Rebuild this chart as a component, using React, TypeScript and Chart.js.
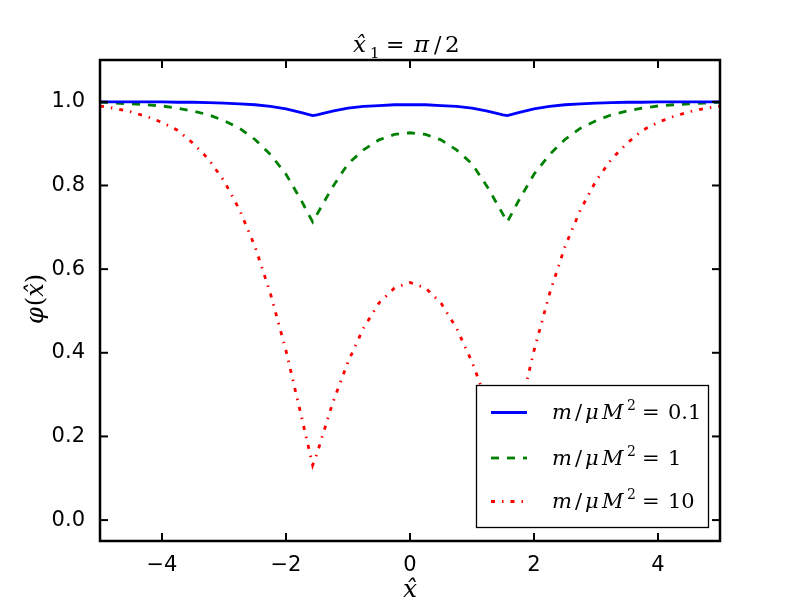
import { useEffect, useRef } from "react";
import { Chart, registerables } from "chart.js";

Chart.register(...registerables);

const xValues = [-5, -4.75, -4.5, -4.25, -4, -3.75, -3.5, -3.25, -3, -2.75, -2.5, -2.25, -2, -1.75, -1.57, -1.5, -1.25, -1, -0.75, -0.5, -0.25, 0, 0.25, 0.5, 0.75, 1, 1.25, 1.5, 1.57, 1.75, 2, 2.25, 2.5, 2.75, 3, 3.25, 3.5, 3.75, 4, 4.25, 4.5, 4.75, 5];

const blueValues = [1.0, 1.0, 1.0, 1.0, 1.0, 0.999, 0.999, 0.998, 0.997, 0.995, 0.993, 0.989, 0.983, 0.974, 0.967, 0.969, 0.978, 0.985, 0.989, 0.991, 0.993, 0.993, 0.993, 0.991, 0.989, 0.985, 0.978, 0.969, 0.967, 0.974, 0.983, 0.989, 0.993, 0.995, 0.997, 0.998, 0.999, 0.999, 1.0, 1.0, 1.0, 1.0, 1.0];

const greenValues = [0.999, 0.997, 0.995, 0.993, 0.99, 0.985, 0.978, 0.969, 0.955, 0.937, 0.91, 0.874, 0.827, 0.763, 0.713, 0.731, 0.796, 0.852, 0.885, 0.909, 0.922, 0.926, 0.922, 0.909, 0.885, 0.852, 0.796, 0.731, 0.713, 0.763, 0.827, 0.874, 0.91, 0.937, 0.955, 0.969, 0.978, 0.985, 0.99, 0.993, 0.995, 0.997, 0.999];

const redValues = [0.99, 0.984, 0.976, 0.965, 0.951, 0.932, 0.901, 0.863, 0.811, 0.742, 0.654, 0.541, 0.405, 0.247, 0.131, 0.159, 0.279, 0.378, 0.459, 0.519, 0.555, 0.568, 0.555, 0.519, 0.459, 0.378, 0.279, 0.159, 0.131, 0.247, 0.405, 0.541, 0.654, 0.742, 0.811, 0.863, 0.901, 0.932, 0.951, 0.965, 0.976, 0.984, 0.99];

const seriesLabels = ["0.1", "1", "10"];
const xTicks = [-4, -2, 0, 2, 4];
const yTicks = [0, 0.2, 0.4, 0.6, 0.8, 1.0];

const SERIF = '"DejaVu Serif", "Liberation Serif", serif';
const it = (s: number) => `italic ${s}px ${SERIF}`;
const rm = (s: number) => `${s}px ${SERIF}`;

type Piece = { t: string; font: string; dx?: number; dy?: number; gap?: number };

// draws pieces; if dx is given it's an absolute offset, otherwise pieces follow each other
function drawPieces(ctx: CanvasRenderingContext2D, pieces: Piece[], x: number, y: number, center = false) {
  ctx.textAlign = "left";
  ctx.textBaseline = "alphabetic";
  ctx.fillStyle = "#000";
  const pos: number[] = [];
  let cur = 0;
  for (const p of pieces) {
    ctx.font = p.font;
    const start = p.dx !== undefined ? p.dx : cur + (p.gap || 0);
    pos.push(start);
    cur = start + ctx.measureText(p.t).width;
  }
  const shift = center ? -cur / 2 : 0;
  pieces.forEach((p, i) => {
    ctx.font = p.font;
    ctx.fillText(p.t, x + pos[i] + shift, y + (p.dy || 0));
  });
}

const decorPlugin = {
  id: "decor",
  afterDraw(chart: any) {
    const { ctx, chartArea: a, scales } = chart;
    ctx.save();
    // frame
    ctx.strokeStyle = "#000";
    ctx.lineWidth = 2.5;
    ctx.strokeRect(a.left, a.top, a.right - a.left, a.bottom - a.top);
    // inward ticks on all sides
    ctx.lineWidth = 2;
    const tl = 8;
    const seg = (x1: number, y1: number, x2: number, y2: number) => {
      ctx.beginPath();
      ctx.moveTo(x1, y1);
      ctx.lineTo(x2, y2);
      ctx.stroke();
    };
    scales.x.ticks.forEach((t: any) => {
      const px = scales.x.getPixelForValue(t.value);
      seg(px, a.bottom, px, a.bottom - tl);
      seg(px, a.top, px, a.top + tl);
    });
    scales.y.ticks.forEach((t: any) => {
      const py = scales.y.getPixelForValue(t.value);
      seg(a.left, py, a.left + tl, py);
      seg(a.right, py, a.right - tl, py);
    });

    // title: x̂_1 = π/2
    drawPieces(ctx, [
      { t: "x\u0302", font: it(23), dx: 0 },
      { t: "1", font: rm(15), dx: 17, dy: 6 },
      { t: "=", font: rm(22), dx: 33 },
      { t: "\u03c0", font: it(23), dx: 61 },
      { t: "/", font: rm(22), dx: 81 },
      { t: "2", font: rm(23), dx: 92 },
    ], 353, 52);

    // x label
    ctx.font = it(25);
    ctx.textAlign = "center";
    ctx.textBaseline = "alphabetic";
    ctx.fillStyle = "#000";
    ctx.fillText("x\u0302", 410, 597);

    // y label
    ctx.save();
    ctx.translate(43, 299);
    ctx.rotate(-Math.PI / 2);
    drawPieces(ctx, [
      { t: "\u03c6", font: it(24) },
      { t: "(", font: rm(24), gap: 1 },
      { t: "x\u0302", font: it(24) },
      { t: ")", font: rm(24) },
    ], 0, 0, true);
    ctx.restore();

    // legend
    const bx = 476.5, by = 385.5, bw = 232, bh = 142;
    ctx.fillStyle = "#fff";
    ctx.fillRect(bx, by, bw, bh);
    ctx.strokeStyle = "#000";
    ctx.lineWidth = 1.3;
    ctx.strokeRect(bx, by, bw, bh);
    const rowsY = [412.5, 458, 501.5];
    chart.data.datasets.forEach((ds: any, i: number) => {
      const ly = rowsY[i];
      ctx.strokeStyle = ds.borderColor;
      ctx.lineWidth = ds.borderWidth;
      ctx.setLineDash(ds.borderDash || []);
      seg(491, ly, 527, ly);
      ctx.setLineDash([]);
      drawPieces(ctx, [
        { t: "m", font: it(21), dx: 0 },
        { t: "/", font: rm(21), dx: 23 },
        { t: "\u03bc", font: it(21), dx: 33 },
        { t: "M", font: it(21), dx: 50 },
        { t: "2", font: rm(14), dx: 75, dy: -9 },
        { t: "=", font: rm(21), dx: 90 },
        { t: seriesLabels[i], font: rm(21), dx: 116 },
      ], 552, ly + 6.5);
    });
    ctx.restore();
  },
};

export default function App() {
  const canvasRef = useRef<HTMLCanvasElement | null>(null);

  useEffect(() => {
    const canvas = canvasRef.current;
    if (!canvas) return;
    const mk = (vals: number[]) => xValues.map((x, i) => ({ x, y: vals[i] }));
    const chart = new Chart(canvas, {
      type: "line",
      data: {
        datasets: [
          { label: "m/μM² = 0.1", data: mk(blueValues), borderColor: "#0000ff", borderWidth: 2.8, pointRadius: 0, tension: 0, fill: false },
          { label: "m/μM² = 1", data: mk(greenValues), borderColor: "#008000", borderWidth: 2.8, borderDash: [8, 8], pointRadius: 0, tension: 0, fill: false },
          { label: "m/μM² = 10", data: mk(redValues), borderColor: "#ff0000", borderWidth: 2.8, borderDash: [4, 7, 1.5, 7], pointRadius: 0, tension: 0, fill: false },
        ],
      },
      options: {
        animation: false,
        responsive: false,
        devicePixelRatio: 1,
        layout: { padding: { left: 0, right: 80, top: 60, bottom: 0 } },
        plugins: { legend: { display: false }, title: { display: false }, tooltip: { enabled: false } },
        scales: {
          x: {
            type: "linear",
            min: -5,
            max: 5,
            grid: { display: false },
            border: { display: false },
            afterBuildTicks: (s: any) => { s.ticks = xTicks.map((v) => ({ value: v })); },
            afterFit: (s: any) => { s.height = 59; },
            ticks: {
              color: "#000",
              padding: 4,
              maxRotation: 0,
              font: { family: '"DejaVu Sans"', size: 21 },
              callback: (v: any) => (v < 0 ? "\u2212" + Math.abs(v) : String(v)),
            },
          },
          y: {
            type: "linear",
            min: -0.05,
            max: 1.1,
            grid: { display: false },
            border: { display: false },
            afterBuildTicks: (s: any) => { s.ticks = yTicks.map((v) => ({ value: v })); },
            afterFit: (s: any) => { s.width = 100; },
            ticks: {
              color: "#000",
              padding: 7,
              font: { family: '"DejaVu Sans"', size: 21 },
              callback: (v: any) => Number(v).toFixed(1),
            },
          },
        },
      },
      plugins: [decorPlugin],
    } as any);
    return () => chart.destroy();
  }, []);

  return (
    <div style={{ position: "fixed", left: 0, top: 0, width: 800, height: 600, background: "#fff" }}>
      <canvas ref={canvasRef} width={800} height={600} style={{ width: 800, height: 600, display: "block" }} />
    </div>
  );
}
